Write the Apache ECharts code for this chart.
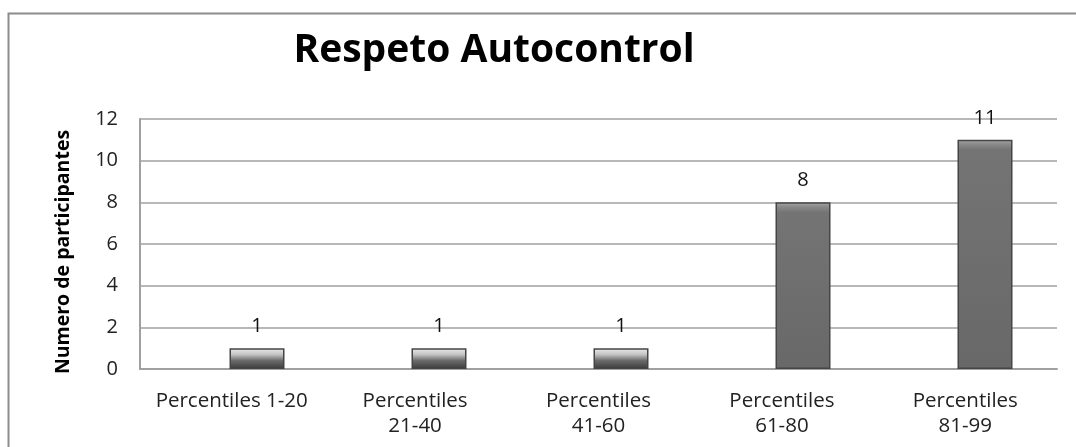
<!DOCTYPE html>
<html><head><meta charset="utf-8">
<script src="https://cdn.jsdelivr.net/npm/echarts@6/dist/echarts.min.js"></script>
<style>html,body{margin:0;padding:0;background:#fff}#c{width:1076px;height:447px}</style>
</head><body><div id="c"></div>
<script>
const categories = ['Percentiles 1-20', 'Percentiles\n21-40', 'Percentiles\n41-60', 'Percentiles\n61-80', 'Percentiles\n81-99'];
const values = [1, 1, 1, 8, 11];
const yTicks = { min: 0, max: 12, interval: 2 };

const chart = echarts.init(document.getElementById('c'));
const font = '"Open Sans", "Noto Sans", sans-serif';
const plotH = 250;

function barColor(params) {
  const h = params.value / yTicks.max * plotH;
  if (h < 40) {
    return { type: 'linear', x: 0, y: 0, x2: 0, y2: 1, colorStops: [
      { offset: 0, color: '#ececec' }, { offset: 0.3, color: '#c4c4c4' },
      { offset: 0.6, color: '#6a6a6a' }, { offset: 1, color: '#3a3a3a' }] };
  }
  const f = Math.min(0.5, 10 / h);
  return { type: 'linear', x: 0, y: 0, x2: 0, y2: 1, colorStops: [
    { offset: 0, color: '#a8a8a8' }, { offset: f * 0.4, color: '#8c8c8c' },
    { offset: f, color: '#747474' }, { offset: 1, color: '#686868' }] };
}

chart.setOption({
  animation: false,
  backgroundColor: '#fff',
  graphic: [{ type: 'rect', shape: { x: 8.5, y: 13.5, width: 1100, height: 500 }, style: { fill: 'none', stroke: '#8c8c8c', lineWidth: 2 }, silent: true }],
  title: {
    text: 'Respeto Autocontrol', left: 489, top: 26, textAlign: 'center',
    textStyle: { fontFamily: font, fontWeight: 'bold', fontSize: 39, color: '#000' }
  },
  grid: [
    { left: 140, width: 917, top: 119, height: plotH },
    { left: 166, width: 917, top: 119, height: plotH }
  ],
  xAxis: [
    { type: 'category', gridIndex: 0, data: categories,
      axisLine: { lineStyle: { color: '#a0a0a0', width: 2 } }, axisTick: { show: false },
      axisLabel: { fontFamily: font, fontSize: 20.5, color: '#222', margin: 20, lineHeight: 25, interval: 0 } },
    { type: 'category', gridIndex: 1, data: categories, show: false }
  ],
  yAxis: [
    { type: 'value', gridIndex: 0, min: yTicks.min, max: yTicks.max, interval: yTicks.interval,
      name: 'Numero de participantes', nameLocation: 'middle', nameGap: 67, nameRotate: 90,
      nameTextStyle: { fontFamily: font, fontWeight: 'bold', fontSize: 19.5, color: '#000', padding: [0, 16, 0, 0] },
      axisLine: { show: true, lineStyle: { color: '#a0a0a0', width: 2 } }, axisTick: { show: false },
      axisLabel: { fontFamily: font, fontSize: 20, color: '#222', margin: 22 },
      splitLine: { lineStyle: { color: '#a0a0a0', width: 1.5 } } },
    { type: 'value', gridIndex: 1, min: yTicks.min, max: yTicks.max, show: false }
  ],
  series: [{
    type: 'bar', xAxisIndex: 1, yAxisIndex: 1, data: values, barWidth: 55,
    itemStyle: { color: barColor, borderColor: '#454545', borderWidth: 1.5 },
    label: { show: true, position: 'top', distance: 12, fontFamily: font, fontSize: 20, color: '#111' }
  }]
});
</script></body></html>
